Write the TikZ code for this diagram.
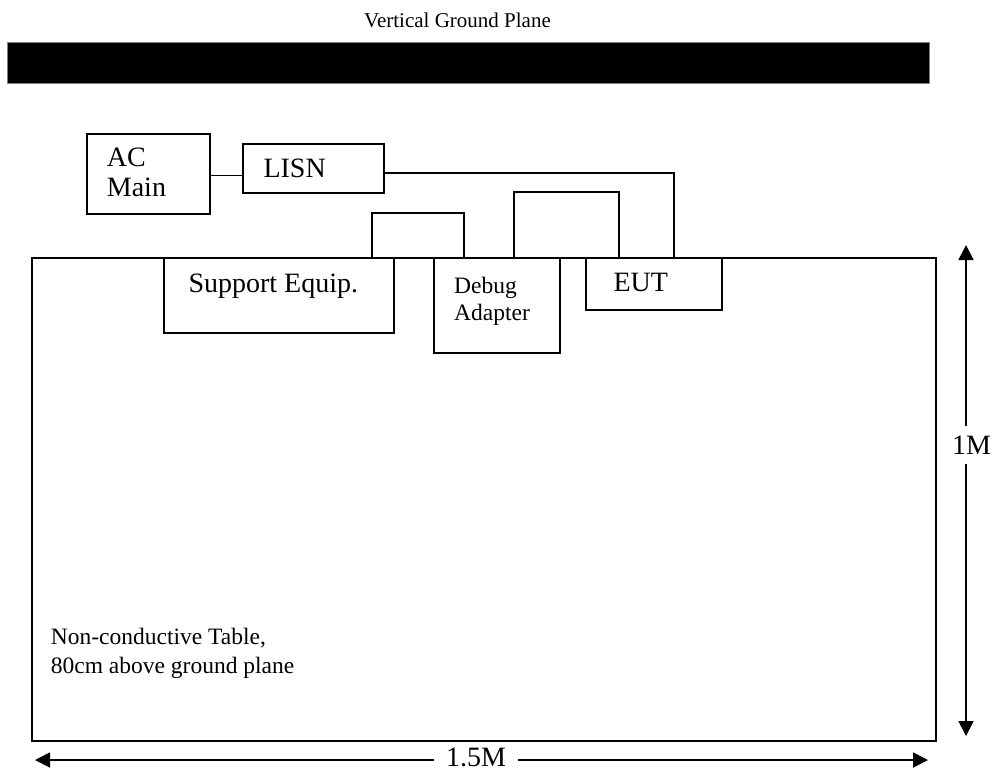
\documentclass[tikz,border=0pt]{standalone}
\usepackage{fontspec}
\setmainfont{Liberation Serif}
\usetikzlibrary{arrows.meta}
\begin{document}
\begin{tikzpicture}[x=1pt,y=-1pt,
  boxn/.style={draw, line width=1.8pt, inner sep=0pt, anchor=north west},
  lbl/.style={anchor=base west, inner sep=0pt},
  big/.style={font=\fontsize{28}{30}\selectfont},
  mid/.style={font=\fontsize{23.5}{26}\selectfont},
  ttl/.style={font=\fontsize{21}{24}\selectfont},
  wire/.style={line width=1.8pt},
  dimarrow/.style={line width=1.8pt, -{Triangle[length=15pt,width=15pt]}}]
\useasboundingbox (0,0) rectangle (992,772);

% title and vertical ground plane
\node[ttl, anchor=base, inner sep=0pt] (title) at (457.5,27) {Vertical Ground Plane};
\node[draw=gray, fill=black, line width=0.7pt, inner sep=0pt, anchor=north west,
      minimum width=922pt, minimum height=41pt] (gp) at (7,42) {};

% table
\node[boxn, line width=2.2pt, minimum width=904pt, minimum height=483pt] (table) at (31,257) {};

% boxes
\node[boxn, minimum width=123pt, minimum height=80pt] (ac) at (86,133) {};
\node[boxn, minimum width=141pt, minimum height=49pt] (lisn) at (242,143) {};
\node[boxn, minimum width=230pt, minimum height=75pt] (sup) at (163,257) {};
\node[boxn, minimum width=126pt, minimum height=95pt] (dbg) at (433,257) {};
\node[boxn, minimum width=136pt, minimum height=52pt] (eut) at (585,257) {};

% box labels
\node[lbl, big] (acA) at (106.7,166.7) {AC};
\node[lbl, big] (acB) at (106.7,196) {Main};
\node[lbl, big] (lisnT) at (263.3,177.3) {LISN};
\node[lbl, big] (supT) at (188.3,292) {Support Equip.};
\node[lbl, mid] (dbgA) at (454,293.3) {Debug};
\node[lbl, mid] (dbgB) at (454,320) {Adapter};
\node[lbl, big] (eutT) at (613.3,291.7) {EUT};
\node[lbl, mid] (tabA) at (50.7,644) {Non-conductive Table,};
\node[lbl, mid] (tabB) at (50.7,673) {80cm above ground plane};

% wires
\draw[wire] ([yshift=-1.5pt]ac.east) -- ([yshift=-1.5pt]ac.east -| lisn.west);
\draw[wire] ([yshift=-4.5pt]lisn.east) -| ([xshift=89pt]eut.north west);
\draw[wire] ([xshift=209pt]sup.north west) -- ++(0,-44) -| ([xshift=31pt]dbg.north west);
\draw[wire] ([xshift=81pt]dbg.north west) -- ++(0,-65) -| ([xshift=34pt]eut.north west);

% dimension 1M
\coordinate (vtop) at (966,245);
\coordinate (vbot) at (966,736);
\node[big, inner sep=0pt, minimum height=38pt] (m1) at (971.5,445) {1M};
\draw[dimarrow] (m1.north -| vtop) -- (vtop);
\draw[dimarrow] (m1.south -| vbot) -- (vbot);

% dimension 1.5M
\coordinate (hl) at (35,760);
\coordinate (hr) at (928,760);
\node[big, inner ysep=0pt, inner xsep=12pt] (m15) at (476,757) {1.5M};
\draw[dimarrow] (m15.west |- hl) -- (hl);
\draw[dimarrow] (m15.east |- hr) -- (hr);
\end{tikzpicture}
\end{document}
